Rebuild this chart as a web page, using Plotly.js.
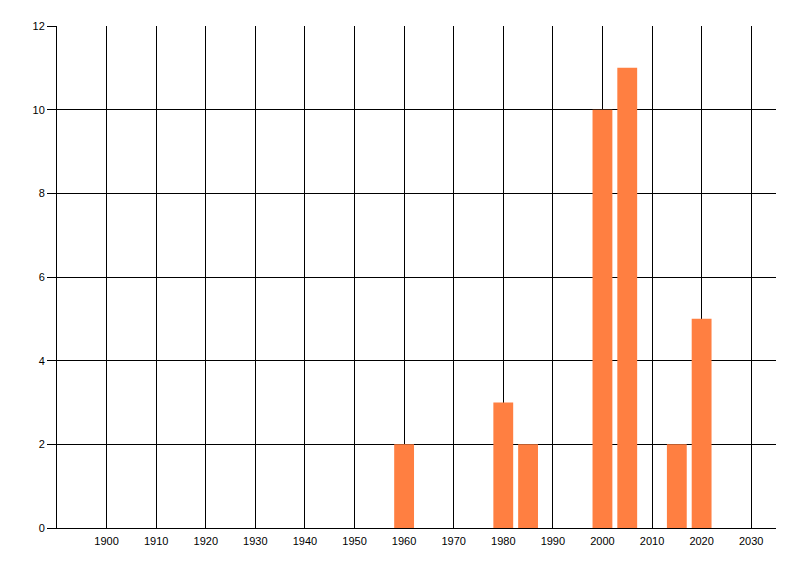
<!DOCTYPE html>
<html>
<head>
<meta charset="utf-8">
<script src="https://cdn.plot.ly/plotly-3.0.1.min.js"></script>
<style>
  html, body { margin: 0; padding: 0; background: #ffffff; }
  #chart { width: 800px; height: 576px; }
</style>
</head>
<body>
<div id="chart"></div>
<script>
const years  = [1960, 1980, 1985, 2000, 2005, 2015, 2020];
const counts = [2, 3, 2, 10, 11, 2, 5];
const xTickVals = [1900, 1910, 1920, 1930, 1940, 1950, 1960, 1970, 1980, 1990, 2000, 2010, 2020, 2030];
const yTickVals = [0, 2, 4, 6, 8, 10, 12];

const trace = {
  type: 'bar',
  x: years,
  y: counts,
  width: years.map(() => 4),
  marker: { color: '#FF7F41', line: { width: 0 } },
  hoverinfo: 'x+y'
};

const layout = {
  width: 800,
  height: 576,
  margin: { l: 57, r: 24, t: 26, b: 48 },
  paper_bgcolor: '#ffffff',
  plot_bgcolor: '#ffffff',
  font: { family: 'Liberation Sans, Arial, sans-serif', size: 11, color: '#000000' },
  showlegend: false,
  xaxis: {
    range: [1890, 2035],
    tickmode: 'array',
    tickvals: xTickVals,
    ticktext: xTickVals.map(String),
    showgrid: true,
    gridcolor: '#000000',
    gridwidth: 1,
    showline: true,
    linecolor: '#000000',
    linewidth: 1,
    zeroline: false,
    ticks: '',
    ticklabelstandoff: 3,
    fixedrange: true
  },
  yaxis: {
    range: [0, 12],
    tickmode: 'array',
    tickvals: yTickVals,
    ticktext: yTickVals.map(String),
    showgrid: true,
    gridcolor: '#000000',
    gridwidth: 1,
    showline: true,
    linecolor: '#000000',
    linewidth: 1,
    zeroline: false,
    ticks: 'outside',
    ticklen: 9,
    tickcolor: '#000000',
    tickwidth: 1,
    ticklabelstandoff: 0,
    fixedrange: true
  }
};

Plotly.newPlot('chart', [trace], layout, { displayModeBar: false, staticPlot: true });
</script>
</body>
</html>
